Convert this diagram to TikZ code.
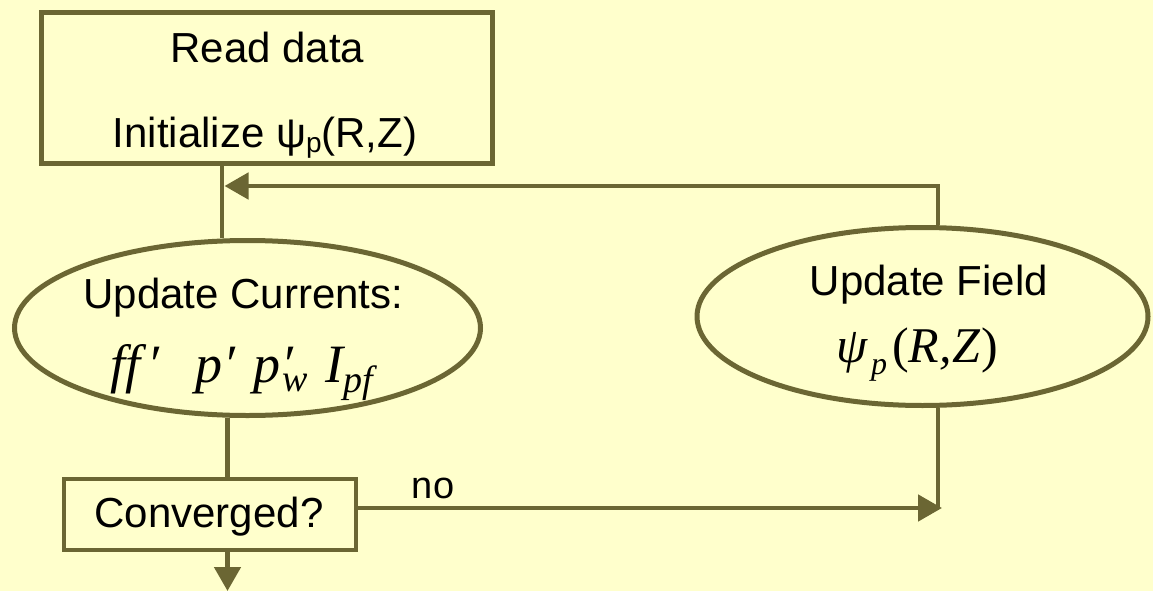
\documentclass[tikz,border=0pt]{standalone}
\usepackage{fontspec}
\setmainfont{Liberation Sans}
\newfontfamily\formulafont{Liberation Serif}
\usetikzlibrary{arrows.meta,shapes.geometric}
\definecolor{flowline}{HTML}{6B6633}
\definecolor{paper}{HTML}{FFFFCC}
\begin{document}
\begin{tikzpicture}[x=1pt,y=-1pt,
  flowbox/.style={draw=flowline, line width=4.8pt, rectangle, inner sep=0pt},
  flowoval/.style={draw=flowline, line width=5pt, ellipse, inner sep=0pt},
  link/.style={draw=flowline, line width=4.8pt},
  arrowlink/.style={link, -{Triangle[length=24pt,width=26pt]}},
  txt/.style={anchor=base, inner sep=0pt, font=\fontsize{42pt}{50pt}\selectfont},
  formula/.style={anchor=base west, inner sep=0pt, font=\formulafont\itshape\fontsize{54pt}{60pt}\selectfont}]
\fill[paper] (0,0) rectangle (1153,591);
\useasboundingbox (0,0) rectangle (1153,591);

% process shapes
\node[flowbox, minimum width=451pt, minimum height=151pt] (readbox) at (267,88) {};
\node[flowoval, minimum width=466pt, minimum height=175pt] (currents) at (247.5,328) {};
\node[flowoval, minimum width=451pt, minimum height=178pt] (field) at (922.5,316.5) {};
\node[flowbox, minimum width=292pt, minimum height=71pt] (converged) at (210,514.5) {};

% texts
\node[txt] (readtxt) at (267.5,63) {Read data};
\node[txt] (inittxt) at (265,147) {Initialize ψ\raisebox{-5pt}{\fontsize{28pt}{30pt}\selectfont p}(R,Z)};
\node[txt] (curtxt) at (243.5,308) {Update Currents:};
\node[formula] (curmath) at (110,382) {\makebox[85pt][l]{ff\kern7pt′}\makebox[58pt][l]{p\kern1pt′}\makebox[72pt][l]{p\rlap{\kern1pt′}\raisebox{-9pt}{\fontsize{38pt}{40pt}\selectfont\kern2pt w}}I\raisebox{-10pt}{\fontsize{38pt}{40pt}\selectfont pf}};
\node[txt] (fieldtxt) at (929,295) {Update Field};
\node[formula, font=\formulafont\itshape\fontsize{50pt}{56pt}\selectfont] (fieldmath) at (836,362) {\makebox[35pt][l]{ψ}\makebox[21pt][l]{\raisebox{-12pt}{\fontsize{32pt}{34pt}\selectfont p}}\textup{(}R,\kern1pt Z\textup{)}};
\node[txt] (convtxt) at (209,527) {Converged?};
\node[txt, font=\fontsize{38pt}{46pt}\selectfont] (notxt) at (433,498) {no};

% connectors
\coordinate (trunk) at (222,186);
\coordinate (fbtip) at (224.5,186);
\coordinate (fbturn) at (938,186);
\coordinate (stem) at (227.5,450);
\coordinate (noend) at (942,508);
\coordinate (exit) at (227.5,591);

\draw[link] (readbox.south -| trunk) -- (currents.north -| trunk);
\draw[arrowlink] (field.north -| fbturn) -- (fbturn) -- (fbtip);
\draw[link] (currents.south -| stem) -- (converged.north -| stem);
\draw[link] (field.south -| fbturn) -- (fbturn |- noend);
\draw[arrowlink] (converged.east |- noend) -- (noend);
\draw[arrowlink] (converged.south -| stem) -- (exit);
\end{tikzpicture}
\end{document}
